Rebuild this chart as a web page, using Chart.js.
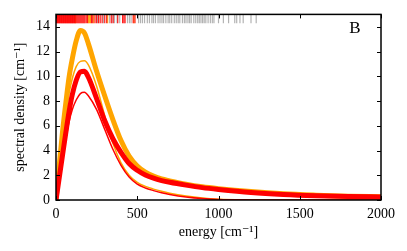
<!DOCTYPE html>
<html>
<head>
<meta charset="utf-8">
<script src="https://cdn.jsdelivr.net/npm/chart.js@4/dist/chart.umd.min.js"></script>
<style>
  html, body { margin: 0; padding: 0; background: #fff; }
  #wrap { width: 407px; height: 251px; }
</style>
</head>
<body>
<div id="wrap"><canvas id="myChart" width="407" height="251"></canvas></div>
<script>
var energy = [0, 20, 40, 60, 80, 100, 125, 150, 175, 200, 250, 300, 350, 400, 450, 500, 550, 600, 650, 700, 800, 900, 1000, 1200, 1400, 1600, 1800, 2000];

// spectral densities [cm^-1]
var thickOrange = [0, 2.8, 5.5, 7.8, 9.9, 11.4, 12.9, 13.7, 13.5, 12.6, 10.4, 8.4, 6.5, 4.8, 3.55, 2.75, 2.25, 1.93, 1.7, 1.55, 1.28, 1.07, 0.92, 0.68, 0.5, 0.39, 0.31, 0.27];
var thinOrange  = [0, 2.4, 4.8, 6.9, 8.6, 9.8, 10.8, 11.2, 11.25, 10.9, 9.2, 6.8, 4.6, 3.0, 2.0, 1.42, 1.1, 0.88, 0.7, 0.55, 0.32, 0.16, 0.07, 0.02, 0, 0, 0, 0];
var thickRed    = [0, 1.8, 3.6, 5.4, 7.1, 8.5, 9.7, 10.35, 10.4, 9.9, 8.2, 6.4, 4.95, 3.85, 2.95, 2.4, 2.02, 1.76, 1.57, 1.43, 1.2, 1.0, 0.85, 0.6, 0.44, 0.34, 0.28, 0.24];
var thinRed     = [0, 1.6, 3.3, 4.9, 6.3, 7.3, 8.1, 8.6, 8.7, 8.4, 7.3, 5.7, 4.1, 2.8, 1.85, 1.28, 0.97, 0.76, 0.58, 0.45, 0.25, 0.12, 0.05, 0.01, 0, 0, 0, 0];

// rug of mode energies along the top
var rugRed = [2, 6, 10, 14, 18, 22, 26, 30, 34, 38, 42, 46, 50, 54, 58, 62, 66, 70, 74, 78, 82, 86, 90, 94, 98, 102, 106, 110, 114, 118, 124, 130, 136, 142, 148, 154, 160, 166, 172, 178, 186, 194, 218, 226, 240, 250, 262, 272, 284, 300, 312, 340, 352, 380, 410, 418, 425, 475, 486];
var rugOrange = [120, 200, 206, 212, 232, 318, 480];
var rugGray = [256, 292, 330, 345, 360, 376, 392, 440, 452, 462, 508, 520, 532, 545, 562, 575, 590, 600, 612, 628, 640, 652, 662, 676, 690, 700, 712, 728, 740, 752, 762, 778, 790, 800, 812, 822, 832, 848, 860, 872, 882, 892, 902, 912, 922, 936, 950, 962, 972, 1000, 1030, 1062, 1100, 1112, 1132, 1152, 1200, 1232];
var rugLevel = 14.65;

var xTicks = [0, 500, 1000, 1500, 2000];
var yTicks = [0, 2, 4, 6, 8, 10, 12, 14];

function pairs(ys) {
    return energy.map(function (e, i) { return { x: e, y: ys[i] }; });
}
function rug(xs) {
    return xs.map(function (e) { return { x: e, y: rugLevel }; });
}
function rugSet(xs, color) {
    return {
        data: rug(xs), showLine: false, pointStyle: 'line', rotation: 90,
        pointRadius: 4.5, pointHoverRadius: 4.5, pointBorderWidth: 1.2,
        borderColor: color, backgroundColor: color
    };
}
function curve(ys, color, width) {
    return {
        data: pairs(ys), borderColor: color, borderWidth: width,
        pointRadius: 0, fill: false, cubicInterpolationMode: 'monotone'
    };
}

const serif = "'Liberation Serif', 'DejaVu Serif', serif";

// frame plus inward ticks on all four sides, like the original
const frame = {
    id: 'frame',
    afterDraw(chart) {
        const ctx = chart.ctx, a = chart.chartArea;
        const xs = chart.scales.x, ys = chart.scales.y;
        ctx.save();
        ctx.strokeStyle = '#000';
        ctx.lineWidth = 1;
        ctx.beginPath();
        xTicks.forEach(function (v) {
            const px = Math.round(xs.getPixelForValue(v)) + 0.5;
            ctx.moveTo(px, a.bottom); ctx.lineTo(px, a.bottom - 4);
            ctx.moveTo(px, a.top); ctx.lineTo(px, a.top + 4);
        });
        yTicks.forEach(function (v) {
            const py = Math.round(ys.getPixelForValue(v)) + 0.5;
            ctx.moveTo(a.left, py); ctx.lineTo(a.left + 4, py);
            ctx.moveTo(a.right, py); ctx.lineTo(a.right - 4, py);
        });
        ctx.stroke();
        ctx.lineWidth = 1.5;
        ctx.strokeRect(a.left, a.top, a.right - a.left, a.bottom - a.top);
        ctx.fillStyle = '#000';
        ctx.font = '17px ' + serif;
        ctx.textAlign = 'center';
        ctx.textBaseline = 'middle';
        ctx.fillText('B', a.right - 26, a.top + 14);
        ctx.restore();
    }
};

const ctx = document.getElementById('myChart');

new Chart(ctx, {
    type: 'line',
    data: {
        datasets: [
            rugSet(rugRed, 'rgba(255,0,0,0.9)'),
            rugSet(rugOrange, 'rgba(255,165,0,0.9)'),
            rugSet(rugGray, 'rgba(0,0,0,0.3)'),
            curve(thinRed, '#ff0000', 1.5),
            curve(thickRed, '#ff0000', 5),
            curve(thinOrange, '#ffa500', 1.5),
            curve(thickOrange, '#ffa500', 5)
        ]
    },
    plugins: [frame],
    options: {
        responsive: false,
        animation: false,
        events: [],
        layout: { padding: { left: 0, right: 26, top: 11, bottom: 0 } },
        plugins: { legend: { display: false }, tooltip: { enabled: false } },
        scales: {
            x: {
                type: 'linear', min: 0, max: 2000,
                afterBuildTicks: function (s) { s.ticks = xTicks.map(function (v) { return { value: v }; }); },
                afterFit: function (s) { s.height = 51; },
                grid: { display: false, drawTicks: false },
                border: { display: false },
                ticks: {
                    color: '#000', padding: 6, maxRotation: 0, font: { family: serif, size: 14 },
                    callback: function (v) { return String(v); }
                },
                title: {
                    display: true, text: 'energy [cm⁻¹]', color: '#000',
                    font: { family: serif, size: 14 }, padding: { top: 0, bottom: 10 }
                }
            },
            y: {
                type: 'linear', min: 0, max: 15,
                afterBuildTicks: function (s) { s.ticks = yTicks.map(function (v) { return { value: v }; }); },
                afterFit: function (s) { s.width = 56; },
                grid: { display: false, drawTicks: false },
                border: { display: false },
                ticks: {
                    color: '#000', padding: 6, font: { family: serif, size: 14 },
                    callback: function (v) { return String(v); }
                },
                title: {
                    display: true, text: 'spectral density [cm⁻¹]', color: '#000',
                    font: { family: serif, size: 14 }, padding: { top: 12, bottom: 0 }
                }
            }
        }
    }
});
</script>
</body>
</html>
